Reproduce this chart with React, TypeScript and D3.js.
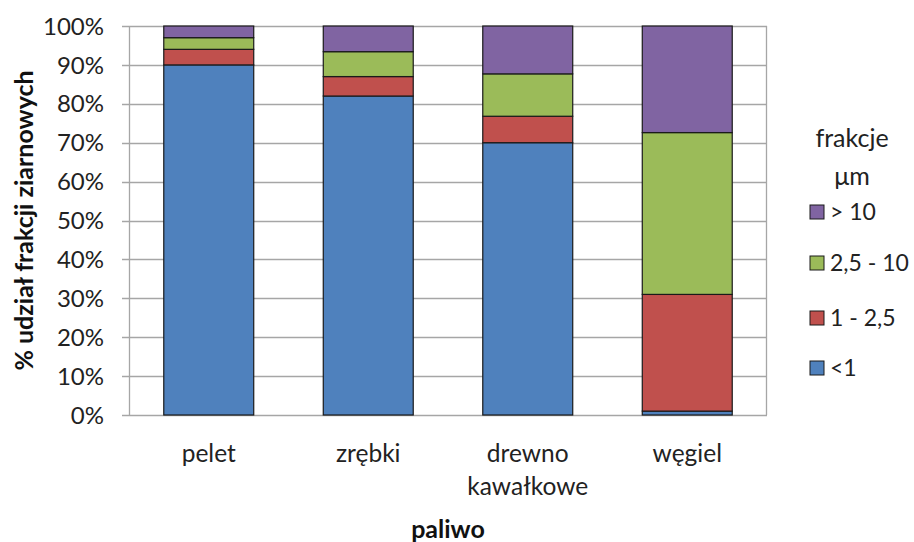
import * as React from "react";
import * as d3 from "d3";

const categories = ["pelet", "zrębki", "drewno\nkawałkowe", "węgiel"];
const seriesNames = ["<1", "1 - 2,5", "2,5 - 10", "> 10"];
const seriesColors = ["#4F81BD", "#C0504D", "#9BBB59", "#8064A2"];
const lt1 = [90, 82, 70, 1];
const s1to25 = [4, 5, 6.8, 30];
const s25to10 = [3, 6.4, 10.9, 41.6];
const gt10 = [3, 6.6, 12.3, 27.4];
const yTicks = [0, 10, 20, 30, 40, 50, 60, 70, 80, 90, 100];

const font = "Lato, 'Open Sans', sans-serif";

export default function App() {
  const width = 914;
  const height = 542;
  const margin = { top: 26, right: 147, bottom: 127, left: 129 };
  const plotW = width - margin.left - margin.right;
  const plotH = height - margin.top - margin.bottom;

  const x = d3.scaleBand()
    .domain(categories)
    .range([0, plotW])
    .paddingInner(0.436)
    .paddingOuter(0.218);
  const y = d3.scaleLinear().domain([0, 100]).range([plotH, 0]);

  const rows = categories.map((c, i) => ({
    cat: c,
    "<1": lt1[i],
    "1 - 2,5": s1to25[i],
    "2,5 - 10": s25to10[i],
    "> 10": gt10[i],
  }));
  const stacked = d3.stack<any>().keys(seriesNames)(rows);

  // legend placement (top to bottom: > 10 first)
  const legendRows = [3, 2, 1, 0];
  const legendY = [212, 263, 318, 368];

  return (
    <div style={{ position: "absolute", left: 0, top: 0 }}>
      <svg width={width} height={height} style={{ display: "block", background: "#fff" }}>
        <g transform={`translate(${margin.left},${margin.top})`}>
          {yTicks.map((t) => (
            <g key={t}>
              <line x1={-7} x2={plotW} y1={Math.round(y(t)) + 0.5} y2={Math.round(y(t)) + 0.5}
                stroke="#a6a6a6" strokeWidth={1.3} />
              <text x={-25} y={y(t)} dy="0.36em" textAnchor="end" fontFamily={font}
                fontSize={24} fill="#222">{t}%</text>
            </g>
          ))}
          <line x1={0.5} x2={0.5} y1={0} y2={plotH} stroke="#a6a6a6" strokeWidth={1.3} />
          <line x1={plotW - 0.5} x2={plotW - 0.5} y1={0} y2={plotH} stroke="#a6a6a6" strokeWidth={1.3} />
          {stacked.map((s, si) => (
            <g key={s.key} fill={seriesColors[si]}>
              {s.map((d, i) => (
                <rect key={i} x={x(categories[i])!} width={x.bandwidth()}
                  y={y(d[1])} height={y(d[0]) - y(d[1])}
                  stroke="#1a1a1a" strokeWidth={1.2} />
              ))}
            </g>
          ))}
          {categories.map((c) => (
            <text key={c} x={x(c)! + x.bandwidth() / 2} y={plotH + 47} textAnchor="middle"
              fontFamily={font} fontSize={24.5} fill="#222">
              {c.split("\n").map((line, li) => (
                <tspan key={li} x={x(c)! + x.bandwidth() / 2} dy={li === 0 ? 0 : 33}>{line}</tspan>
              ))}
            </text>
          ))}
        </g>
        <text transform={`translate(33,${margin.top + plotH / 2}) rotate(-90)`} textAnchor="middle"
          fontFamily={font} fontWeight="bold" fontSize={25} fill="#111">% udział frakcji ziarnowych</text>
        <text x={448} y={538} textAnchor="middle" fontFamily={font} fontWeight="bold"
          fontSize={25} fill="#111">paliwo</text>
        <text x={852} y={147} textAnchor="middle" fontFamily={font} fontSize={25} fill="#222">frakcje</text>
        <text x={852} y={185} textAnchor="middle" fontFamily={font} fontSize={25} fill="#222">μm</text>
        {legendRows.map((si, k) => (
          <g key={si}>
            <rect x={810} y={legendY[k] - 7} width={14} height={14} fill={seriesColors[si]}
              stroke="#1a1a1a" strokeWidth={1} />
            <text x={830} y={legendY[k]} dy="0.36em" fontFamily={font} fontSize={23} fill="#222">
              {seriesNames[si]}
            </text>
          </g>
        ))}
      </svg>
    </div>
  );
}
